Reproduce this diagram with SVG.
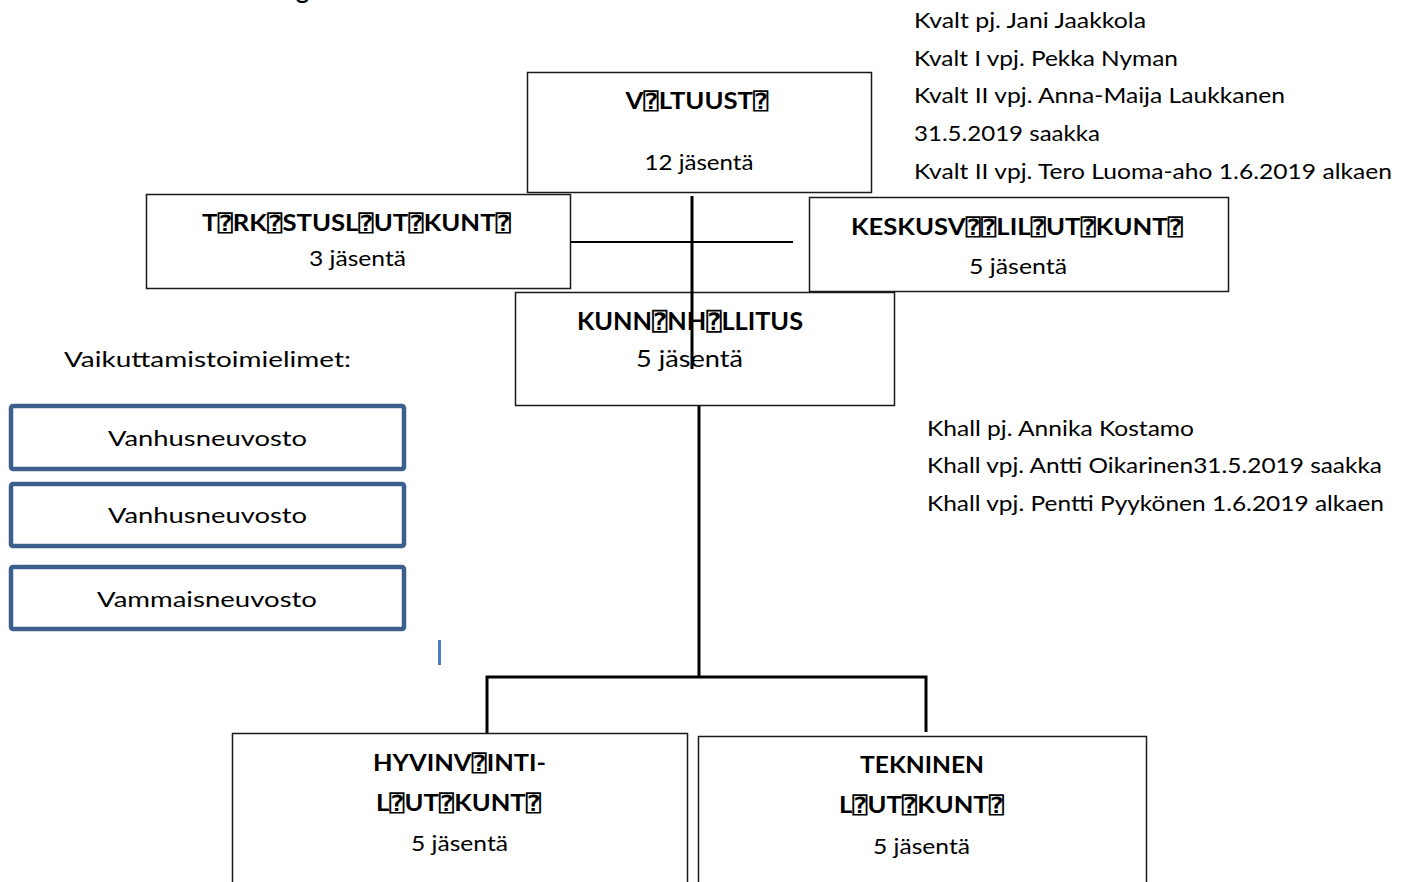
<svg xmlns="http://www.w3.org/2000/svg" width="1408" height="882" viewBox="0 0 1408 882">
<style>
text{font-family:Lato,"Liberation Sans","DejaVu Sans Mono",sans-serif;fill:#000;font-size:22px}
.b{font-weight:bold}
.m{text-anchor:middle}
.box{fill:#fff;stroke:#1a1a1a;stroke-width:1.5}
.blue{fill:#fff;stroke:#3d5f8e;stroke-width:4.5}
.c{stroke:#000;stroke-width:3;fill:none}
</style>
<rect width="1408" height="882" fill="#fff"/>
<text class="b" x="296" y="-1" textLength="13" lengthAdjust="spacingAndGlyphs">g</text>

<g id="info-valtuusto">
<text x="914" y="28" textLength="232" lengthAdjust="spacingAndGlyphs">Kvalt pj. Jani Jaakkola</text>
<text x="914" y="66" textLength="264" lengthAdjust="spacingAndGlyphs">Kvalt I vpj. Pekka Nyman</text>
<text x="914" y="103" textLength="371" lengthAdjust="spacingAndGlyphs">Kvalt II vpj. Anna-Maija Laukkanen</text>
<text x="914" y="141" textLength="186" lengthAdjust="spacingAndGlyphs">31.5.2019 saakka</text>
<text x="914" y="179" textLength="478" lengthAdjust="spacingAndGlyphs">Kvalt II vpj. Tero Luoma-aho 1.6.2019 alkaen</text>
</g>

<g id="connectors">
<line class="c" x1="692" y1="196" x2="692" y2="369"/>
<line class="c" x1="570" y1="242" x2="793" y2="242" style="stroke-width:2"/>
<line class="c" x1="699" y1="405" x2="699" y2="677"/>
<polyline class="c" points="487,733 487,677 926,677 926,732"/>
</g>

<g id="valtuusto">
<rect class="box" x="527.5" y="72.5" width="344" height="120"/>
<text class="b m" x="697" y="109" textLength="143" lengthAdjust="spacingAndGlyphs">V⍰LTUUST⍰</text>
<text class="m" x="699" y="170" textLength="109" lengthAdjust="spacingAndGlyphs">12 jäsentä</text>
</g>

<g id="tarkastuslautakunta">
<rect class="box" x="146.5" y="194.5" width="424" height="94"/>
<text class="b m" x="356.5" y="231" textLength="309" lengthAdjust="spacingAndGlyphs">T⍰RK⍰STUSL⍰UT⍰KUNT⍰</text>
<text class="m" x="357.5" y="266" textLength="97" lengthAdjust="spacingAndGlyphs">3 jäsentä</text>
</g>

<g id="keskusvaalilautakunta">
<rect class="box" x="809.5" y="197.5" width="419" height="94"/>
<text class="b m" x="1017" y="235" textLength="332" lengthAdjust="spacingAndGlyphs">KESKUSV⍰⍰LIL⍰UT⍰KUNT⍰</text>
<text class="m" x="1018" y="274" textLength="98" lengthAdjust="spacingAndGlyphs">5 jäsentä</text>
</g>

<g id="kunnanhallitus">
<rect class="box" x="515.5" y="292.5" width="379" height="113"/>
<text class="b m" x="690" y="330" style="font-size:24px" textLength="226" lengthAdjust="spacingAndGlyphs">KUNN⍰NH⍰LLITUS</text>
<text class="m" x="689.5" y="367" style="font-size:24px" textLength="107" lengthAdjust="spacingAndGlyphs">5 jäsentä</text>
</g>
<line class="c" x1="692" y1="292" x2="692" y2="369"/>

<g id="info-kunnanhallitus">
<text x="927" y="436" textLength="267" lengthAdjust="spacingAndGlyphs">Khall pj. Annika Kostamo</text>
<text x="927" y="473" textLength="455" lengthAdjust="spacingAndGlyphs">Khall vpj. Antti Oikarinen31.5.2019 saakka</text>
<text x="927" y="511" textLength="457" lengthAdjust="spacingAndGlyphs">Khall vpj. Pentti Pyykönen 1.6.2019 alkaen</text>
</g>

<g id="vaikuttamistoimielimet">
<text x="64" y="367" textLength="287" lengthAdjust="spacingAndGlyphs">Vaikuttamistoimielimet:</text>
</g>

<g id="vanhusneuvosto-1">
<rect class="blue" x="11" y="406" width="393" height="63" rx="2"/>
<text class="m" x="207.5" y="446" textLength="199" lengthAdjust="spacingAndGlyphs">Vanhusneuvosto</text>
</g>
<g id="vanhusneuvosto-2">
<rect class="blue" x="11" y="484" width="393" height="62" rx="2"/>
<text class="m" x="207.5" y="523" textLength="199" lengthAdjust="spacingAndGlyphs">Vanhusneuvosto</text>
</g>
<g id="vammaisneuvosto">
<rect class="blue" x="11" y="567" width="393" height="62" rx="2"/>
<text class="m" x="207" y="607" textLength="220" lengthAdjust="spacingAndGlyphs">Vammaisneuvosto</text>
</g>

<rect x="438" y="640" width="3" height="25" fill="#4a7ebf"/>

<g id="hyvinvointilautakunta">
<rect class="box" x="232.5" y="733.5" width="455" height="160"/>
<text class="b m" x="459.5" y="771" textLength="173" lengthAdjust="spacingAndGlyphs">HYVINV⍰INTI-</text>
<text class="b m" x="458.5" y="811" textLength="165" lengthAdjust="spacingAndGlyphs">L⍰UT⍰KUNT⍰</text>
<text class="m" x="459.5" y="851" textLength="97" lengthAdjust="spacingAndGlyphs">5 jäsentä</text>
</g>

<g id="tekninen-lautakunta">
<rect class="box" x="698.5" y="736.5" width="448" height="160"/>
<text class="b m" x="922" y="773" textLength="124" lengthAdjust="spacingAndGlyphs">TEKNINEN</text>
<text class="b m" x="921.5" y="813" textLength="165" lengthAdjust="spacingAndGlyphs">L⍰UT⍰KUNT⍰</text>
<text class="m" x="921.5" y="854" textLength="97" lengthAdjust="spacingAndGlyphs">5 jäsentä</text>
</g>
</svg>
